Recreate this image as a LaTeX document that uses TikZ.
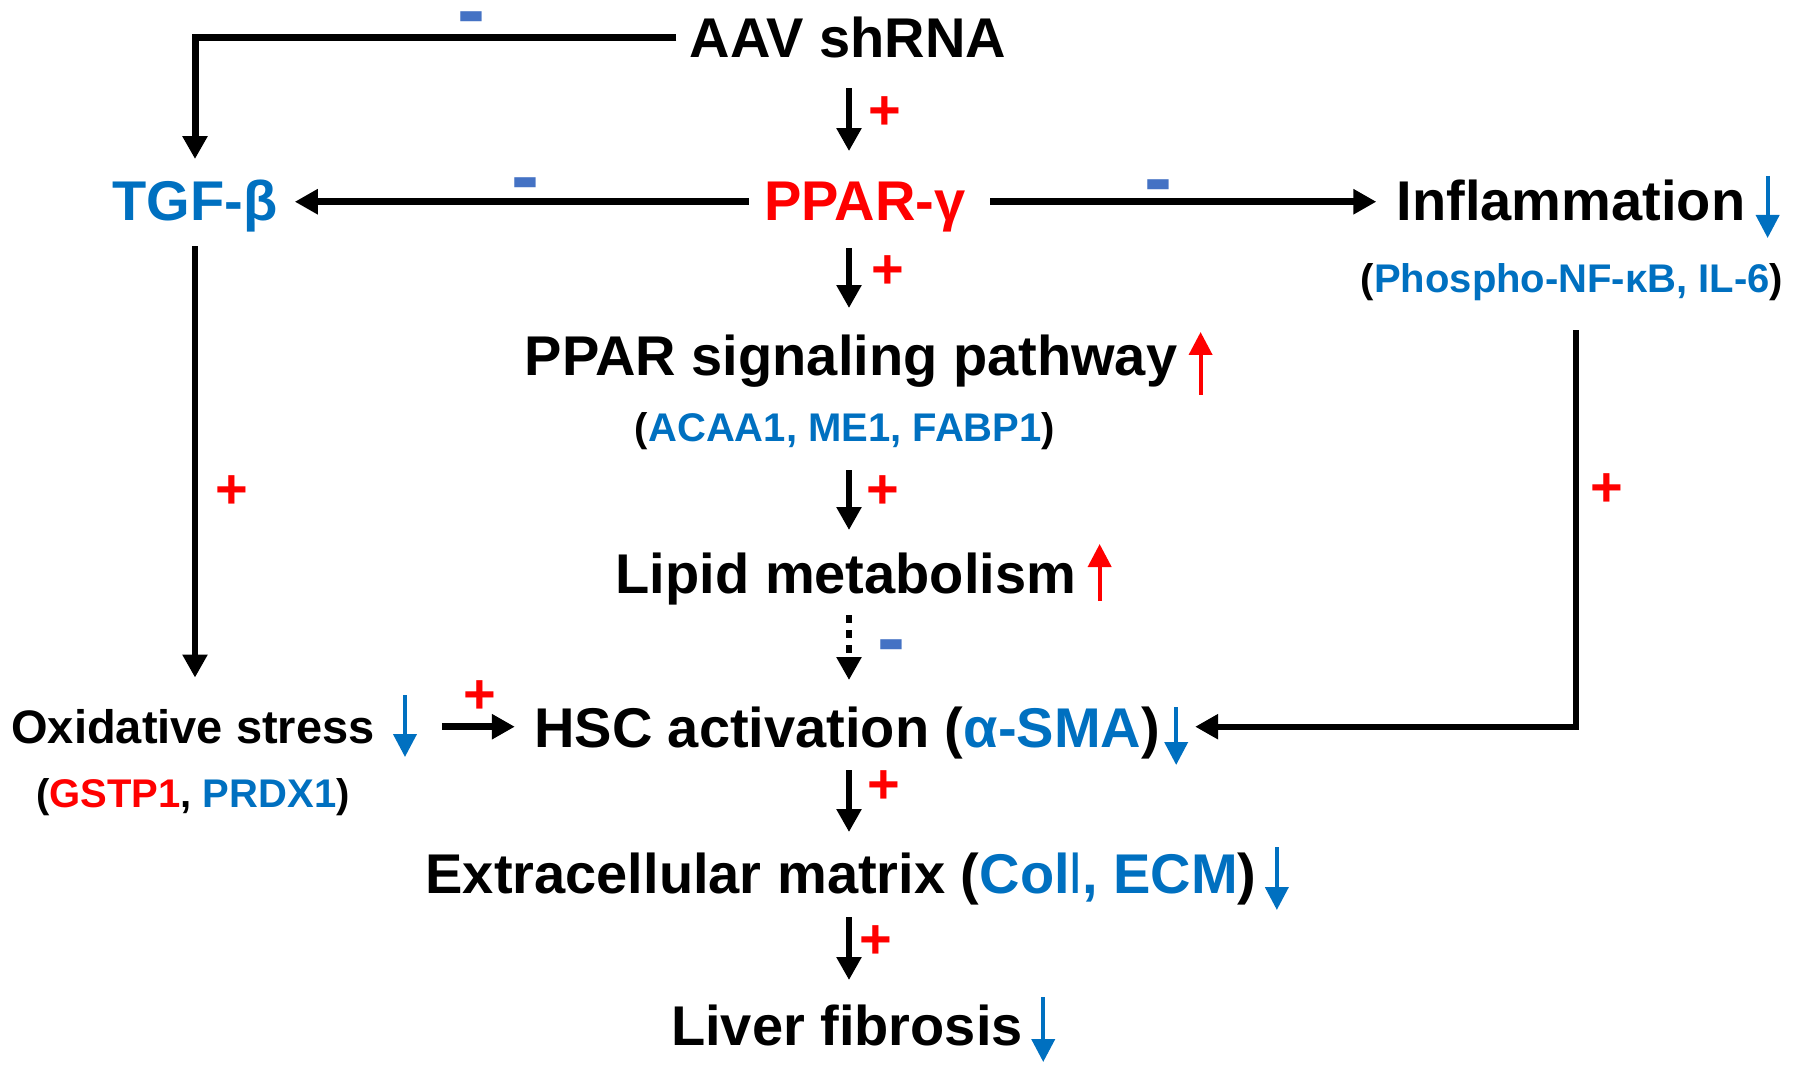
\documentclass[tikz,border=0pt]{standalone}
\usepackage{fontspec}
\setmainfont{Liberation Sans}
\usetikzlibrary{arrows.meta,calc}
\definecolor{cblue}{RGB}{0,112,192}
\definecolor{cred}{RGB}{255,0,0}
\definecolor{cminus}{RGB}{68,114,196}
\begin{document}
\begin{tikzpicture}[x=0.5pt,y=-0.5pt,
  lbl/.style={inner sep=0pt, anchor=base, text depth=0pt, font=\fontsize{28}{32}\selectfont\bfseries},
  sub/.style={inner sep=0pt, anchor=base, text depth=0pt, font=\fontsize{20}{24}\selectfont\bfseries},
  conn/.style={line width=2.75pt, -{Triangle[width=12pt,length=11.5pt]}},
  hconn/.style={conn, line width=3.5pt},
  trend/.style={line width=2pt, -{Triangle[width=11.5pt,length=11.5pt]}},
  plus/.style={inner sep=0pt, text=cred, font=\fontsize{28}{32}\selectfont\bfseries},
  minus/.style={inner sep=0pt, text=cminus, font=\fontsize{42}{46}\selectfont\bfseries},
]
\useasboundingbox (0,0) rectangle (1795,1075);
\coordinate (axis) at (849,0);
% nodes
\node[lbl] (aav) at (848,58) {AAV shRNA};
\node[lbl, text=cblue] (tgf) at (195,221) {TGF-β};
\node[lbl, text=cred] (ppar) at (865,221) {PPAR-γ};
\node[lbl] (infl) at (1571,221) {Inflammation};
\node[sub] (phos) at (1572,293) {(\textcolor{cblue}{Phospho-NF-κB, IL-6})};
\node[lbl] (path) at (851,376) {PPAR signaling pathway};
\node[sub] (acaa) at (845,442) {(\textcolor{cblue}{ACAA1, ME1, FABP1})};
\node[lbl] (lipid) at (846,593) {Lipid metabolism};
\node[lbl] (hsc) at (847,747) {HSC activation (\textcolor{cblue}{α-SMA})};
\node[lbl, font=\fontsize{23.5}{28}\selectfont\bfseries] (ox) at (193,743) {Oxidative stress};
\node[sub] (gst) at (193,807) {(\textcolor{cred}{GSTP1}, \textcolor{cblue}{PRDX1})};
\node[lbl] (ecm) at (841,893) {Extracellular matrix (\textcolor{cblue}{Col{\mdseries l}, ECM})};
\node[lbl] (liver) at (847,1045) {Liver fibrosis};
% connectors
\draw[hconn] ($(aav.west)+(-13,0)$) -| ($(tgf.north)+(0,-21)$);
\draw[conn, shorten <=15pt, shorten >=15.5pt] (axis |- aav.south) -- (axis |- ppar.north);
\draw[hconn, shorten <=7.5pt, shorten >=8.5pt] (ppar.west) -- (tgf.east |- ppar.west);
\draw[hconn, shorten <=12pt, shorten >=10pt] (ppar.east) -- (infl.west |- ppar.east);
\draw[conn, shorten <=13.5pt, shorten >=13.5pt] (axis |- ppar.south) -- (axis |- path.north);
\draw[conn, shorten <=14pt, shorten >=11pt] (axis |- acaa.south) -- (axis |- lipid.north);
\draw[conn, dash pattern=on 4pt off 3.5pt, shorten <=11pt, shorten >=13pt] (axis |- lipid.south) -- (axis |- hsc.north);
\draw[conn, shorten <=12.5pt, shorten >=15.5pt] (tgf.south) -- (tgf.south |- ox.north);
\draw[conn, line width=3pt] ($(phos.south)+(4,37)$) |- ($(hsc.east)+(35,0)$);
\draw[hconn] ($(ox.east |- hsc.west)+(67,0)$) -- ($(hsc.west)+(-19,0)$);
\draw[conn, shorten <=11.5pt, shorten >=10pt] (axis |- hsc.south) -- (axis |- ecm.north);
\draw[conn, shorten <=12pt, shorten >=12pt] (axis |- ecm.south) -- (axis |- liver.north);
% trend arrows
\draw[trend, cblue] ($(infl.base east)+(22,-45)$) -- ($(infl.base east)+(22,17)$);
\draw[trend, cred] ($(path.base east)+(23,19)$) -- ($(path.base east)+(23,-44)$);
\draw[trend, cred] ($(lipid.base east)+(23,8)$) -- ($(lipid.base east)+(23,-49)$);
\draw[trend, cblue] ($(hsc.base east)+(16,-40)$) -- ($(hsc.base east)+(16,18)$);
\draw[trend, cblue] ($(ox.base east)+(30,-48)$) -- ($(ox.base east)+(30,14)$);
\draw[trend, cblue] ($(ecm.base east)+(20,-46)$) -- ($(ecm.base east)+(20,17)$);
\draw[trend, cblue] ($(liver.base east)+(20,-48)$) -- ($(liver.base east)+(20,17)$);
% signs
\node[plus] (p1) at (885,113) {+};
\node[plus] (p2) at (888,272) {+};
\node[plus] (p3) at (883,492) {+};
\node[plus] (p4) at (232,492) {+};
\node[plus] (p5) at (1607,490) {+};
\node[plus] (p6) at (480,697) {+};
\node[plus] (p7) at (884,787) {+};
\node[plus] (p8) at (876,942) {+};
\node[minus] (m1) at (471,25) {-};
\node[minus] (m2) at (525,191) {-};
\node[minus] (m3) at (1158,193) {-};
\node[minus] (m4) at (891,653) {-};
\end{tikzpicture}
\end{document}
